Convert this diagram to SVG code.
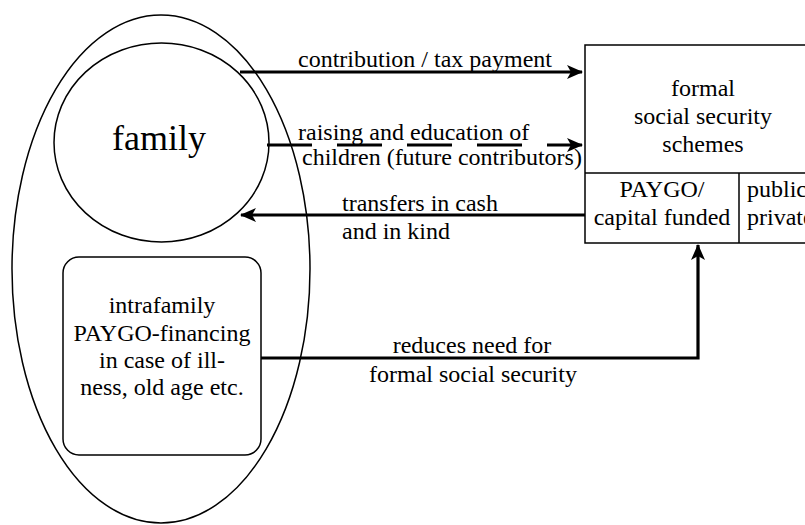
<svg xmlns="http://www.w3.org/2000/svg" width="805" height="525" viewBox="0 0 805 525" font-family="Liberation Serif, Times New Roman, serif">
  <style>
    .t { font-size: 24px; fill: #000; }
    .c { text-anchor: middle; }
    .outline { fill: none; stroke: #000; stroke-width: 1.5; }
    .flow { fill: none; stroke: #000; stroke-width: 3.2; }
    .dashed { stroke-dasharray: 45 25; }
  </style>
  <defs>
    <marker id="arrow" viewBox="0 0 16 14" refX="15" refY="7" markerWidth="16" markerHeight="14" markerUnits="userSpaceOnUse" orient="auto">
      <path d="M0,0 L16,7 L0,14 L4,7 Z" fill="#000"/>
    </marker>
  </defs>

  <rect width="805" height="525" fill="#fff"/>

  <!-- household sphere -->
  <g id="household">
    <ellipse class="outline" cx="161" cy="269" rx="149" ry="254"/>
  </g>

  <g id="family">
    <ellipse class="outline" cx="161.5" cy="142.5" rx="107.5" ry="99.5"/>
    <text class="t c" x="159" y="150" font-family="Liberation Serif" style="font-size:36px">family</text>
  </g>

  <g id="intrafamily" font-family="Liberation Serif">
    <rect class="outline" x="63" y="257" width="198" height="198" rx="16"/>
    <text class="t c" x="162" y="313">intrafamily</text>
    <text class="t c" x="162" y="341">PAYGO-financing</text>
    <text class="t c" x="162" y="368">in case of ill-</text>
    <text class="t c" x="162" y="395">ness, old age etc.</text>
  </g>

  <g id="formal-schemes" font-family="Liberation Serif">
    <rect class="outline" x="585" y="45" width="236" height="198"/>
    <line class="outline" x1="585" y1="173" x2="821" y2="173"/>
    <line class="outline" x1="739" y1="173" x2="739" y2="243"/>
    <text class="t c" x="703" y="96">formal</text>
    <text class="t c" x="703" y="124">social security</text>
    <text class="t c" x="703" y="152">schemes</text>
    <text class="t c" x="662" y="197">PAYGO/</text>
    <text class="t c" x="662" y="225">capital funded</text>
    <text class="t" x="747" y="197">public</text>
    <text class="t" x="747" y="225">private</text>
  </g>

  <g id="connectors" font-family="Liberation Serif">
    <line class="flow" x1="240" y1="72" x2="582" y2="72" marker-end="url(#arrow)"/>
    <line class="flow dashed" x1="267" y1="145" x2="582" y2="145" marker-end="url(#arrow)"/>
    <line class="flow" x1="585" y1="215" x2="241" y2="215" marker-end="url(#arrow)"/>
    <polyline class="flow" points="261,358 698,358 698,245" marker-end="url(#arrow)"/>

    <text class="t c" x="425" y="67">contribution / tax payment</text>
    <text class="t" x="298" y="140">raising and education of</text>
    <text class="t" x="302" y="165">children (future contributors)</text>
    <text class="t" x="342" y="211">transfers in cash</text>
    <text class="t" x="342" y="239">and in kind</text>
    <text class="t c" x="472" y="353">reduces need for</text>
    <text class="t c" x="473" y="382">formal social security</text>
  </g>
</svg>
